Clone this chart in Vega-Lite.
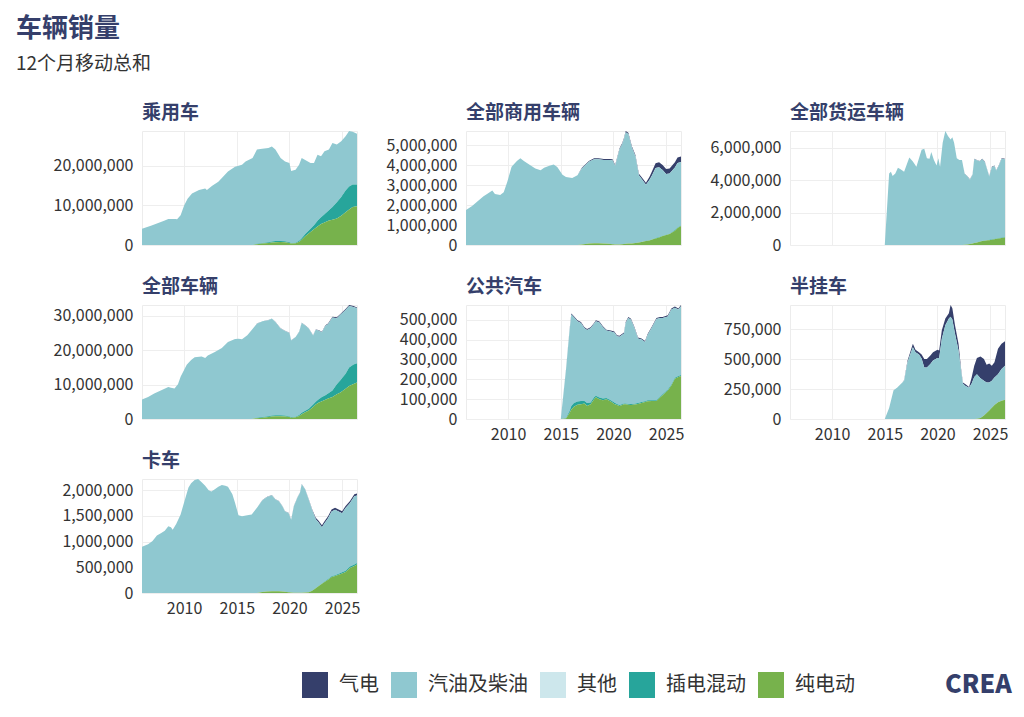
{
  "$schema": "https://vega.github.io/schema/vega-lite/v6.json",
  "padding": {"left": 16, "top": 15, "right": 10, "bottom": 5},
  "title": {
    "text": "车辆销量",
    "subtitle": "12个月移动总和",
    "anchor": "start",
    "frame": "group",
    "dx": -126,
    "fontSize": 26,
    "fontWeight": "bold",
    "color": "#353f6b",
    "subtitleFontSize": 19,
    "subtitleColor": "#333333",
    "subtitlePadding": 13,
    "offset": 30
  },
  "data": {
    "values": [
      {"p":"乘用车","d":"2006-01","g":0,"i":4100000,"h":0,"e":0},
      {"p":"乘用车","d":"2006-12","g":0,"i":4900000,"h":0,"e":0},
      {"p":"乘用车","d":"2008-03","g":0,"i":6200000,"h":0,"e":0},
      {"p":"乘用车","d":"2008-07","g":0,"i":6600000,"h":0,"e":0},
      {"p":"乘用车","d":"2009-03","g":0,"i":6600000,"h":0,"e":0},
      {"p":"乘用车","d":"2009-05","g":0,"i":6500000,"h":0,"e":0},
      {"p":"乘用车","d":"2009-09","g":0,"i":7500000,"h":0,"e":0},
      {"p":"乘用车","d":"2010-01","g":0,"i":10000000,"h":0,"e":0},
      {"p":"乘用车","d":"2010-05","g":0,"i":11700000,"h":0,"e":0},
      {"p":"乘用车","d":"2010-10","g":0,"i":13000000,"h":0,"e":0},
      {"p":"乘用车","d":"2011-06","g":0,"i":13900000,"h":0,"e":0},
      {"p":"乘用车","d":"2012-01","g":0,"i":14300000,"h":0,"e":0},
      {"p":"乘用车","d":"2012-03","g":0,"i":13900000,"h":0,"e":0},
      {"p":"乘用车","d":"2012-09","g":0,"i":15000000,"h":0,"e":0},
      {"p":"乘用车","d":"2013-04","g":0,"i":16000000,"h":0,"e":0},
      {"p":"乘用车","d":"2014-03","g":0,"i":18600000,"h":0,"e":0},
      {"p":"乘用车","d":"2014-11","g":0,"i":19800000,"h":0,"e":0},
      {"p":"乘用车","d":"2015-07","g":0,"i":20300000,"h":0,"e":0},
      {"p":"乘用车","d":"2015-11","g":0,"i":21100000,"h":0,"e":0},
      {"p":"乘用车","d":"2016-07","g":0,"i":22000000,"h":0,"e":0},
      {"p":"乘用车","d":"2016-12","g":0,"i":23800000,"h":100000,"e":200000},
      {"p":"乘用车","d":"2017-06","g":0,"i":23800000,"h":150000,"e":350000},
      {"p":"乘用车","d":"2018-01","g":0,"i":23800000,"h":200000,"e":500000},
      {"p":"乘用车","d":"2018-05","g":0,"i":24000000,"h":250000,"e":650000},
      {"p":"乘用车","d":"2018-09","g":0,"i":23100000,"h":300000,"e":700000},
      {"p":"乘用车","d":"2019-03","g":0,"i":21000000,"h":250000,"e":750000},
      {"p":"乘用车","d":"2019-08","g":0,"i":20150000,"h":250000,"e":700000},
      {"p":"乘用车","d":"2020-01","g":0,"i":20000000,"h":200000,"e":500000},
      {"p":"乘用车","d":"2020-03","g":0,"i":18200000,"h":150000,"e":350000},
      {"p":"乘用车","d":"2020-08","g":0,"i":18400000,"h":150000,"e":450000},
      {"p":"乘用车","d":"2020-12","g":0,"i":19200000,"h":250000,"e":850000},
      {"p":"乘用车","d":"2021-03","g":0,"i":20300000,"h":400000,"e":1300000},
      {"p":"乘用车","d":"2021-07","g":0,"i":18700000,"h":600000,"e":2200000},
      {"p":"乘用车","d":"2022-01","g":0,"i":16600000,"h":800000,"e":3300000},
      {"p":"乘用车","d":"2022-05","g":0,"i":15700000,"h":1000000,"e":4000000},
      {"p":"乘用车","d":"2022-09","g":0,"i":16700000,"h":1400000,"e":4700000},
      {"p":"乘用车","d":"2023-01","g":0,"i":15400000,"h":1700000,"e":5300000},
      {"p":"乘用车","d":"2023-05","g":0,"i":15900000,"h":2100000,"e":5700000},
      {"p":"乘用车","d":"2023-10","g":0,"i":15300000,"h":2600000,"e":6200000},
      {"p":"乘用车","d":"2024-02","g":0,"i":16200000,"h":3200000,"e":6400000},
      {"p":"乘用车","d":"2024-07","g":0,"i":14600000,"h":4100000,"e":6700000},
      {"p":"乘用车","d":"2024-12","g":0,"i":14100000,"h":4700000,"e":7400000},
      {"p":"乘用车","d":"2025-05","g":0,"i":13700000,"h":5500000,"e":8300000},
      {"p":"乘用车","d":"2025-09","g":0,"i":14000000,"h":5800000,"e":9000000},
      {"p":"乘用车","d":"2026-01","g":0,"i":13300000,"h":5700000,"e":9600000},
      {"p":"乘用车","d":"2026-06","g":0,"i":12800000,"h":5500000,"e":9800000},

      {"p":"全部商用车辆","d":"2006-01","g":0,"i":1760000,"h":0,"e":0},
      {"p":"全部商用车辆","d":"2006-08","g":0,"i":1960000,"h":0,"e":0},
      {"p":"全部商用车辆","d":"2007-03","g":0,"i":2220000,"h":0,"e":0},
      {"p":"全部商用车辆","d":"2007-09","g":0,"i":2440000,"h":0,"e":0},
      {"p":"全部商用车辆","d":"2008-01","g":0,"i":2560000,"h":0,"e":0},
      {"p":"全部商用车辆","d":"2008-07","g":0,"i":2730000,"h":0,"e":0},
      {"p":"全部商用车辆","d":"2008-10","g":0,"i":2560000,"h":0,"e":0},
      {"p":"全部商用车辆","d":"2009-04","g":0,"i":2510000,"h":0,"e":0},
      {"p":"全部商用车辆","d":"2009-08","g":0,"i":2650000,"h":0,"e":0},
      {"p":"全部商用车辆","d":"2009-12","g":0,"i":3160000,"h":0,"e":0},
      {"p":"全部商用车辆","d":"2010-05","g":0,"i":3920000,"h":0,"e":0},
      {"p":"全部商用车辆","d":"2010-11","g":0,"i":4220000,"h":0,"e":0},
      {"p":"全部商用车辆","d":"2011-03","g":0,"i":4350000,"h":0,"e":0},
      {"p":"全部商用车辆","d":"2011-07","g":0,"i":4220000,"h":0,"e":0},
      {"p":"全部商用车辆","d":"2012-01","g":0,"i":4040000,"h":0,"e":0},
      {"p":"全部商用车辆","d":"2012-08","g":0,"i":3840000,"h":0,"e":0},
      {"p":"全部商用车辆","d":"2013-02","g":0,"i":3750000,"h":0,"e":0},
      {"p":"全部商用车辆","d":"2013-06","g":0,"i":3870000,"h":0,"e":0},
      {"p":"全部商用车辆","d":"2013-12","g":0,"i":3980000,"h":0,"e":0},
      {"p":"全部商用车辆","d":"2014-05","g":0,"i":4040000,"h":0,"e":0},
      {"p":"全部商用车辆","d":"2014-09","g":0,"i":3910000,"h":0,"e":0},
      {"p":"全部商用车辆","d":"2015-03","g":0,"i":3530000,"h":0,"e":0},
      {"p":"全部商用车辆","d":"2015-07","g":0,"i":3410000,"h":0,"e":0},
      {"p":"全部商用车辆","d":"2016-02","g":0,"i":3360000,"h":0,"e":0},
      {"p":"全部商用车辆","d":"2016-08","g":0,"i":3500000,"h":0,"e":0},
      {"p":"全部商用车辆","d":"2017-01","g":30000,"i":3810000,"h":0,"e":30000},
      {"p":"全部商用车辆","d":"2017-09","g":40000,"i":4100000,"h":0,"e":80000},
      {"p":"全部商用车辆","d":"2018-03","g":50000,"i":4210000,"h":0,"e":90000},
      {"p":"全部商用车辆","d":"2018-08","g":50000,"i":4210000,"h":0,"e":90000},
      {"p":"全部商用车辆","d":"2019-02","g":50000,"i":4190000,"h":0,"e":80000},
      {"p":"全部商用车辆","d":"2019-08","g":50000,"i":4210000,"h":0,"e":60000},
      {"p":"全部商用车辆","d":"2019-12","g":50000,"i":4210000,"h":0,"e":40000},
      {"p":"全部商用车辆","d":"2020-03","g":50000,"i":3930000,"h":0,"e":30000},
      {"p":"全部商用车辆","d":"2020-08","g":50000,"i":4780000,"h":0,"e":30000},
      {"p":"全部商用车辆","d":"2020-11","g":50000,"i":5030000,"h":0,"e":40000},
      {"p":"全部商用车辆","d":"2021-01","g":50000,"i":5270000,"h":0,"e":50000},
      {"p":"全部商用车辆","d":"2021-03","g":60000,"i":5600000,"h":0,"e":60000},
      {"p":"全部商用车辆","d":"2021-06","g":60000,"i":5500000,"h":0,"e":70000},
      {"p":"全部商用车辆","d":"2021-10","g":60000,"i":4810000,"h":0,"e":80000},
      {"p":"全部商用车辆","d":"2022-02","g":70000,"i":4350000,"h":0,"e":100000},
      {"p":"全部商用车辆","d":"2022-06","g":80000,"i":3370000,"h":0,"e":130000},
      {"p":"全部商用车辆","d":"2022-09","g":90000,"i":3170000,"h":0,"e":150000},
      {"p":"全部商用车辆","d":"2023-02","g":100000,"i":2810000,"h":10000,"e":200000},
      {"p":"全部商用车辆","d":"2023-06","g":150000,"i":3020000,"h":10000,"e":230000},
      {"p":"全部商用车辆","d":"2023-09","g":200000,"i":3220000,"h":10000,"e":270000},
      {"p":"全部商用车辆","d":"2024-01","g":240000,"i":3510000,"h":20000,"e":330000},
      {"p":"全部商用车辆","d":"2024-05","g":250000,"i":3500000,"h":20000,"e":380000},
      {"p":"全部商用车辆","d":"2024-09","g":250000,"i":3290000,"h":20000,"e":450000},
      {"p":"全部商用车辆","d":"2025-01","g":250000,"i":3040000,"h":20000,"e":500000},
      {"p":"全部商用车辆","d":"2025-05","g":250000,"i":3020000,"h":20000,"e":550000},
      {"p":"全部商用车辆","d":"2025-11","g":260000,"i":3140000,"h":30000,"e":720000},
      {"p":"全部商用车辆","d":"2026-02","g":280000,"i":3230000,"h":30000,"e":850000},
      {"p":"全部商用车辆","d":"2026-06","g":280000,"i":3180000,"h":30000,"e":950000},

      {"p":"全部货运车辆","d":"2015-01","g":0,"i":0,"h":0,"e":0},
      {"p":"全部货运车辆","d":"2015-06","g":0,"i":4420000,"h":0,"e":0},
      {"p":"全部货运车辆","d":"2015-08","g":0,"i":4530000,"h":0,"e":0},
      {"p":"全部货运车辆","d":"2015-10","g":0,"i":4270000,"h":0,"e":0},
      {"p":"全部货运车辆","d":"2016-01","g":0,"i":4420000,"h":0,"e":0},
      {"p":"全部货运车辆","d":"2016-04","g":0,"i":4780000,"h":0,"e":0},
      {"p":"全部货运车辆","d":"2016-07","g":0,"i":4690000,"h":0,"e":0},
      {"p":"全部货运车辆","d":"2016-11","g":0,"i":4530000,"h":0,"e":0},
      {"p":"全部货运车辆","d":"2017-03","g":0,"i":5120000,"h":0,"e":0},
      {"p":"全部货运车辆","d":"2017-05","g":0,"i":5410000,"h":0,"e":0},
      {"p":"全部货运车辆","d":"2017-09","g":0,"i":5160000,"h":0,"e":0},
      {"p":"全部货运车辆","d":"2018-01","g":0,"i":4840000,"h":0,"e":0},
      {"p":"全部货运车辆","d":"2018-04","g":0,"i":5370000,"h":0,"e":0},
      {"p":"全部货运车辆","d":"2018-07","g":0,"i":5890000,"h":0,"e":0},
      {"p":"全部货运车辆","d":"2018-10","g":0,"i":5960000,"h":0,"e":0},
      {"p":"全部货运车辆","d":"2019-01","g":0,"i":5370000,"h":0,"e":0},
      {"p":"全部货运车辆","d":"2019-04","g":0,"i":5330000,"h":0,"e":0},
      {"p":"全部货运车辆","d":"2019-06","g":0,"i":5750000,"h":0,"e":0},
      {"p":"全部货运车辆","d":"2019-09","g":0,"i":5260000,"h":0,"e":0},
      {"p":"全部货运车辆","d":"2019-12","g":0,"i":4910000,"h":0,"e":0},
      {"p":"全部货运车辆","d":"2020-02","g":0,"i":5370000,"h":0,"e":0},
      {"p":"全部货运车辆","d":"2020-04","g":0,"i":4840000,"h":0,"e":0},
      {"p":"全部货运车辆","d":"2020-07","g":0,"i":6320000,"h":0,"e":0},
      {"p":"全部货运车辆","d":"2020-10","g":0,"i":7050000,"h":0,"e":0},
      {"p":"全部货运车辆","d":"2021-01","g":0,"i":6740000,"h":0,"e":0},
      {"p":"全部货运车辆","d":"2021-04","g":0,"i":6530000,"h":0,"e":0},
      {"p":"全部货运车辆","d":"2021-06","g":0,"i":6670000,"h":0,"e":0},
      {"p":"全部货运车辆","d":"2021-08","g":0,"i":6320000,"h":0,"e":0},
      {"p":"全部货运车辆","d":"2021-11","g":0,"i":5370000,"h":0,"e":0},
      {"p":"全部货运车辆","d":"2022-02","g":0,"i":5260000,"h":0,"e":0},
      {"p":"全部货运车辆","d":"2022-05","g":0,"i":5260000,"h":0,"e":0},
      {"p":"全部货运车辆","d":"2022-08","g":20000,"i":4390000,"h":0,"e":10000},
      {"p":"全部货运车辆","d":"2022-11","g":20000,"i":4220000,"h":0,"e":30000},
      {"p":"全部货运车辆","d":"2023-02","g":20000,"i":3980000,"h":0,"e":60000},
      {"p":"全部货运车辆","d":"2023-05","g":20000,"i":4250000,"h":0,"e":90000},
      {"p":"全部货运车辆","d":"2023-07","g":20000,"i":5190000,"h":0,"e":120000},
      {"p":"全部货运车辆","d":"2023-10","g":20000,"i":5080000,"h":0,"e":160000},
      {"p":"全部货运车辆","d":"2024-01","g":20000,"i":4970000,"h":10000,"e":200000},
      {"p":"全部货运车辆","d":"2024-04","g":30000,"i":5050000,"h":10000,"e":240000},
      {"p":"全部货运车辆","d":"2024-07","g":30000,"i":4850000,"h":10000,"e":270000},
      {"p":"全部货运车辆","d":"2024-10","g":30000,"i":4300000,"h":10000,"e":290000},
      {"p":"全部货运车辆","d":"2024-12","g":30000,"i":3920000,"h":20000,"e":300000},
      {"p":"全部货运车辆","d":"2025-03","g":30000,"i":4460000,"h":20000,"e":330000},
      {"p":"全部货运车辆","d":"2025-06","g":30000,"i":4500000,"h":20000,"e":360000},
      {"p":"全部货运车辆","d":"2025-08","g":30000,"i":4200000,"h":20000,"e":380000},
      {"p":"全部货运车辆","d":"2025-11","g":30000,"i":4490000,"h":30000,"e":400000},
      {"p":"全部货运车辆","d":"2026-02","g":30000,"i":4870000,"h":30000,"e":440000},
      {"p":"全部货运车辆","d":"2026-06","g":30000,"i":4800000,"h":40000,"e":460000},

      {"p":"全部车辆","d":"2006-01","g":0,"i":5700000,"h":0,"e":0},
      {"p":"全部车辆","d":"2006-08","g":0,"i":6400000,"h":0,"e":0},
      {"p":"全部车辆","d":"2007-03","g":0,"i":7400000,"h":0,"e":0},
      {"p":"全部车辆","d":"2007-11","g":0,"i":8400000,"h":0,"e":0},
      {"p":"全部车辆","d":"2008-07","g":0,"i":9300000,"h":0,"e":0},
      {"p":"全部车辆","d":"2008-10","g":0,"i":9100000,"h":0,"e":0},
      {"p":"全部车辆","d":"2009-02","g":0,"i":8900000,"h":0,"e":0},
      {"p":"全部车辆","d":"2009-06","g":0,"i":10100000,"h":0,"e":0},
      {"p":"全部车辆","d":"2009-09","g":0,"i":12300000,"h":0,"e":0},
      {"p":"全部车辆","d":"2010-04","g":0,"i":15800000,"h":0,"e":0},
      {"p":"全部车辆","d":"2010-09","g":0,"i":17200000,"h":0,"e":0},
      {"p":"全部车辆","d":"2011-01","g":0,"i":18000000,"h":0,"e":0},
      {"p":"全部车辆","d":"2011-09","g":0,"i":18200000,"h":0,"e":0},
      {"p":"全部车辆","d":"2012-01","g":0,"i":17800000,"h":0,"e":0},
      {"p":"全部车辆","d":"2012-04","g":0,"i":18500000,"h":0,"e":0},
      {"p":"全部车辆","d":"2012-12","g":0,"i":19500000,"h":0,"e":0},
      {"p":"全部车辆","d":"2013-08","g":0,"i":20700000,"h":0,"e":0},
      {"p":"全部车辆","d":"2014-03","g":0,"i":22400000,"h":0,"e":0},
      {"p":"全部车辆","d":"2014-11","g":0,"i":23300000,"h":0,"e":0},
      {"p":"全部车辆","d":"2015-03","g":0,"i":23400000,"h":0,"e":0},
      {"p":"全部车辆","d":"2015-07","g":0,"i":23200000,"h":0,"e":0},
      {"p":"全部车辆","d":"2016-01","g":0,"i":24400000,"h":0,"e":0},
      {"p":"全部车辆","d":"2016-06","g":0,"i":25900000,"h":0,"e":0},
      {"p":"全部车辆","d":"2016-12","g":30000,"i":27420000,"h":100000,"e":250000},
      {"p":"全部车辆","d":"2017-06","g":40000,"i":27910000,"h":150000,"e":400000},
      {"p":"全部车辆","d":"2018-01","g":50000,"i":27950000,"h":200000,"e":600000},
      {"p":"全部车辆","d":"2018-05","g":50000,"i":28250000,"h":250000,"e":750000},
      {"p":"全部车辆","d":"2018-09","g":50000,"i":27150000,"h":300000,"e":800000},
      {"p":"全部车辆","d":"2019-03","g":50000,"i":25250000,"h":300000,"e":800000},
      {"p":"全部车辆","d":"2019-08","g":50000,"i":24650000,"h":250000,"e":750000},
      {"p":"全部车辆","d":"2020-01","g":50000,"i":24300000,"h":200000,"e":550000},
      {"p":"全部车辆","d":"2020-03","g":50000,"i":22300000,"h":150000,"e":400000},
      {"p":"全部车辆","d":"2020-08","g":50000,"i":23200000,"h":150000,"e":500000},
      {"p":"全部车辆","d":"2020-12","g":50000,"i":24150000,"h":300000,"e":900000},
      {"p":"全部车辆","d":"2021-03","g":60000,"i":26140000,"h":400000,"e":1400000},
      {"p":"全部车辆","d":"2021-07","g":60000,"i":24840000,"h":400000,"e":2000000},
      {"p":"全部车辆","d":"2021-11","g":70000,"i":23330000,"h":500000,"e":2500000},
      {"p":"全部车辆","d":"2022-04","g":80000,"i":20120000,"h":700000,"e":3500000},
      {"p":"全部车辆","d":"2022-07","g":80000,"i":21020000,"h":800000,"e":4200000},
      {"p":"全部车辆","d":"2022-10","g":90000,"i":20110000,"h":1000000,"e":4700000},
      {"p":"全部车辆","d":"2023-02","g":100000,"i":18900000,"h":1200000,"e":5200000},
      {"p":"全部车辆","d":"2023-06","g":150000,"i":20250000,"h":1300000,"e":5600000},
      {"p":"全部车辆","d":"2023-09","g":200000,"i":20200000,"h":1400000,"e":6000000},
      {"p":"全部车辆","d":"2024-02","g":240000,"i":21260000,"h":1900000,"e":6400000},
      {"p":"全部车辆","d":"2024-07","g":250000,"i":19250000,"h":2900000,"e":7200000},
      {"p":"全部车辆","d":"2024-11","g":250000,"i":19050000,"h":3600000,"e":7700000},
      {"p":"全部车辆","d":"2025-05","g":250000,"i":18550000,"h":4400000,"e":8800000},
      {"p":"全部车辆","d":"2025-09","g":260000,"i":17940000,"h":5400000,"e":9600000},
      {"p":"全部车辆","d":"2026-02","g":280000,"i":16720000,"h":5700000,"e":10200000},
      {"p":"全部车辆","d":"2026-06","g":280000,"i":16020000,"h":5600000,"e":10600000},

      {"p":"公共汽车","d":"2015-01","g":0,"i":0,"h":0,"e":0},
      {"p":"公共汽车","d":"2015-07","g":2000,"i":243000,"h":2000,"e":3000},
      {"p":"公共汽车","d":"2015-11","g":4000,"i":406000,"h":10000,"e":30000},
      {"p":"公共汽车","d":"2016-01","g":5000,"i":461000,"h":17000,"e":48000},
      {"p":"公共汽车","d":"2016-04","g":5000,"i":432000,"h":18000,"e":62000},
      {"p":"公共汽车","d":"2016-08","g":5000,"i":404000,"h":16000,"e":72000},
      {"p":"公共汽车","d":"2016-12","g":5000,"i":392000,"h":17000,"e":74000},
      {"p":"公共汽车","d":"2017-04","g":5000,"i":366000,"h":13000,"e":78000},
      {"p":"公共汽车","d":"2017-07","g":5000,"i":368000,"h":14000,"e":66000},
      {"p":"公共汽车","d":"2017-11","g":5000,"i":374000,"h":9000,"e":74000},
      {"p":"公共汽车","d":"2018-03","g":5000,"i":369000,"h":10000,"e":100000},
      {"p":"公共汽车","d":"2018-05","g":5000,"i":375000,"h":8000,"e":109000},
      {"p":"公共汽车","d":"2018-09","g":5000,"i":378000,"h":8000,"e":100000},
      {"p":"公共汽车","d":"2019-01","g":5000,"i":359000,"h":8000,"e":95000},
      {"p":"公共汽车","d":"2019-05","g":5000,"i":339000,"h":6000,"e":100000},
      {"p":"公共汽车","d":"2019-10","g":5000,"i":345000,"h":7000,"e":88000},
      {"p":"公共汽车","d":"2020-02","g":5000,"i":353000,"h":7000,"e":76000},
      {"p":"公共汽车","d":"2020-05","g":5000,"i":341000,"h":6000,"e":70000},
      {"p":"公共汽车","d":"2020-08","g":5000,"i":344000,"h":5000,"e":65000},
      {"p":"公共汽车","d":"2021-01","g":5000,"i":353000,"h":4000,"e":74000},
      {"p":"公共汽车","d":"2021-03","g":5000,"i":405000,"h":4000,"e":74000},
      {"p":"公共汽车","d":"2021-06","g":5000,"i":433000,"h":4000,"e":72000},
      {"p":"公共汽车","d":"2021-09","g":5000,"i":425000,"h":4000,"e":71000},
      {"p":"公共汽车","d":"2022-01","g":5000,"i":380000,"h":4000,"e":73000},
      {"p":"公共汽车","d":"2022-05","g":5000,"i":325000,"h":4000,"e":76000},
      {"p":"公共汽车","d":"2022-09","g":5000,"i":315000,"h":4000,"e":81000},
      {"p":"公共汽车","d":"2023-01","g":5000,"i":299000,"h":4000,"e":85000},
      {"p":"公共汽车","d":"2023-04","g":5000,"i":329000,"h":4000,"e":90000},
      {"p":"公共汽车","d":"2023-09","g":5000,"i":367000,"h":4000,"e":91000},
      {"p":"公共汽车","d":"2024-02","g":5000,"i":409000,"h":4000,"e":91000},
      {"p":"公共汽车","d":"2024-06","g":6000,"i":396000,"h":4000,"e":108000},
      {"p":"公共汽车","d":"2024-09","g":6000,"i":383000,"h":5000,"e":120000},
      {"p":"公共汽车","d":"2025-03","g":6000,"i":368000,"h":5000,"e":143000},
      {"p":"公共汽车","d":"2025-07","g":6000,"i":377000,"h":5000,"e":169000},
      {"p":"公共汽车","d":"2025-11","g":6000,"i":352000,"h":5000,"e":203000},
      {"p":"公共汽车","d":"2026-03","g":6000,"i":335000,"h":5000,"e":211000},
      {"p":"公共汽车","d":"2026-06","g":6000,"i":347000,"h":5000,"e":216000},

      {"p":"半挂车","d":"2015-01","g":0,"i":0,"h":0,"e":0},
      {"p":"半挂车","d":"2015-06","g":0,"i":93000,"h":0,"e":0},
      {"p":"半挂车","d":"2015-11","g":0,"i":240000,"h":0,"e":0},
      {"p":"半挂车","d":"2016-03","g":0,"i":262000,"h":0,"e":0},
      {"p":"半挂车","d":"2016-09","g":0,"i":305000,"h":0,"e":0},
      {"p":"半挂车","d":"2016-11","g":4000,"i":320000,"h":0,"e":0},
      {"p":"半挂车","d":"2017-03","g":14000,"i":474000,"h":0,"e":0},
      {"p":"半挂车","d":"2017-06","g":19000,"i":539000,"h":0,"e":0},
      {"p":"半挂车","d":"2017-09","g":29000,"i":600000,"h":0,"e":0},
      {"p":"半挂车","d":"2017-12","g":20000,"i":558000,"h":0,"e":0},
      {"p":"半挂车","d":"2018-04","g":19000,"i":539000,"h":0,"e":0},
      {"p":"半挂车","d":"2018-07","g":34000,"i":505000,"h":0,"e":0},
      {"p":"半挂车","d":"2018-10","g":71000,"i":431000,"h":0,"e":0},
      {"p":"半挂车","d":"2019-01","g":71000,"i":431000,"h":0,"e":0},
      {"p":"半挂车","d":"2019-05","g":70000,"i":460000,"h":0,"e":0},
      {"p":"半挂车","d":"2019-08","g":70000,"i":488000,"h":0,"e":0},
      {"p":"半挂车","d":"2020-01","g":68000,"i":510000,"h":0,"e":0},
      {"p":"半挂车","d":"2020-03","g":62000,"i":510000,"h":0,"e":0},
      {"p":"半挂车","d":"2020-06","g":71000,"i":671000,"h":0,"e":0},
      {"p":"半挂车","d":"2020-10","g":56000,"i":784000,"h":0,"e":0},
      {"p":"半挂车","d":"2021-02","g":43000,"i":840000,"h":0,"e":0},
      {"p":"半挂车","d":"2021-04","g":98000,"i":855000,"h":0,"e":0},
      {"p":"半挂车","d":"2021-06","g":93000,"i":832000,"h":0,"e":0},
      {"p":"半挂车","d":"2021-09","g":71000,"i":713000,"h":0,"e":0},
      {"p":"半挂车","d":"2022-01","g":57000,"i":572000,"h":0,"e":0},
      {"p":"半挂车","d":"2022-04","g":14000,"i":403000,"h":0,"e":0},
      {"p":"半挂车","d":"2022-06","g":9000,"i":296000,"h":0,"e":0},
      {"p":"半挂车","d":"2022-09","g":14000,"i":276000,"h":0,"e":0},
      {"p":"半挂车","d":"2023-01","g":6000,"i":262000,"h":0,"e":0},
      {"p":"半挂车","d":"2023-04","g":51000,"i":296000,"h":0,"e":0},
      {"p":"半挂车","d":"2023-07","g":94000,"i":352000,"h":0,"e":0},
      {"p":"半挂车","d":"2023-10","g":135000,"i":373000,"h":0,"e":2000},
      {"p":"半挂车","d":"2024-02","g":181000,"i":333000,"h":0,"e":8000},
      {"p":"半挂车","d":"2024-06","g":183000,"i":289000,"h":0,"e":30000},
      {"p":"半挂车","d":"2024-09","g":149000,"i":255000,"h":0,"e":50000},
      {"p":"半挂车","d":"2024-12","g":160000,"i":233000,"h":0,"e":72000},
      {"p":"半挂车","d":"2025-03","g":127000,"i":224000,"h":0,"e":95000},
      {"p":"半挂车","d":"2025-06","g":127000,"i":229000,"h":0,"e":118000},
      {"p":"半挂车","d":"2025-10","g":212000,"i":235000,"h":0,"e":140000},
      {"p":"半挂车","d":"2026-02","g":212000,"i":265000,"h":0,"e":152000},
      {"p":"半挂车","d":"2026-06","g":205000,"i":285000,"h":0,"e":161000},

      {"p":"卡车","d":"2006-01","g":0,"i":901000,"h":0,"e":0},
      {"p":"卡车","d":"2006-08","g":0,"i":948000,"h":0,"e":0},
      {"p":"卡车","d":"2007-01","g":0,"i":1013000,"h":0,"e":0},
      {"p":"卡车","d":"2007-06","g":0,"i":1119000,"h":0,"e":0},
      {"p":"卡车","d":"2007-11","g":0,"i":1165000,"h":0,"e":0},
      {"p":"卡车","d":"2008-03","g":0,"i":1211000,"h":0,"e":0},
      {"p":"卡车","d":"2008-07","g":0,"i":1296000,"h":0,"e":0},
      {"p":"卡车","d":"2008-10","g":0,"i":1277000,"h":0,"e":0},
      {"p":"卡车","d":"2008-12","g":0,"i":1230000,"h":0,"e":0},
      {"p":"卡车","d":"2009-04","g":0,"i":1342000,"h":0,"e":0},
      {"p":"卡车","d":"2009-09","g":0,"i":1527000,"h":0,"e":0},
      {"p":"卡车","d":"2010-02","g":0,"i":1823000,"h":0,"e":0},
      {"p":"卡车","d":"2010-06","g":0,"i":2053000,"h":0,"e":0},
      {"p":"卡车","d":"2010-09","g":0,"i":2132000,"h":0,"e":0},
      {"p":"卡车","d":"2011-01","g":0,"i":2198000,"h":0,"e":0},
      {"p":"卡车","d":"2011-05","g":0,"i":2217000,"h":0,"e":0},
      {"p":"卡车","d":"2011-09","g":0,"i":2152000,"h":0,"e":0},
      {"p":"卡车","d":"2012-01","g":0,"i":2086000,"h":0,"e":0},
      {"p":"卡车","d":"2012-05","g":0,"i":2000000,"h":0,"e":0},
      {"p":"卡车","d":"2012-08","g":0,"i":1974000,"h":0,"e":0},
      {"p":"卡车","d":"2012-12","g":0,"i":2020000,"h":0,"e":0},
      {"p":"卡车","d":"2013-04","g":0,"i":2066000,"h":0,"e":0},
      {"p":"卡车","d":"2013-08","g":0,"i":2099000,"h":0,"e":0},
      {"p":"卡车","d":"2013-12","g":0,"i":2086000,"h":0,"e":0},
      {"p":"卡车","d":"2014-03","g":0,"i":2066000,"h":0,"e":0},
      {"p":"卡车","d":"2014-08","g":0,"i":1921000,"h":0,"e":0},
      {"p":"卡车","d":"2014-11","g":0,"i":1757000,"h":0,"e":0},
      {"p":"卡车","d":"2015-03","g":0,"i":1513000,"h":0,"e":0},
      {"p":"卡车","d":"2015-07","g":0,"i":1494000,"h":0,"e":0},
      {"p":"卡车","d":"2016-01","g":0,"i":1513000,"h":0,"e":0},
      {"p":"卡车","d":"2016-06","g":0,"i":1527000,"h":0,"e":0},
      {"p":"卡车","d":"2016-12","g":0,"i":1658000,"h":0,"e":0},
      {"p":"卡车","d":"2017-06","g":5000,"i":1778000,"h":0,"e":20000},
      {"p":"卡车","d":"2017-11","g":5000,"i":1834000,"h":0,"e":30000},
      {"p":"卡车","d":"2018-05","g":5000,"i":1870000,"h":0,"e":33000},
      {"p":"卡车","d":"2018-09","g":5000,"i":1785000,"h":0,"e":33000},
      {"p":"卡车","d":"2019-01","g":5000,"i":1752000,"h":0,"e":33000},
      {"p":"卡车","d":"2019-05","g":5000,"i":1656000,"h":0,"e":30000},
      {"p":"卡车","d":"2019-08","g":5000,"i":1562000,"h":0,"e":25000},
      {"p":"卡车","d":"2019-12","g":5000,"i":1539000,"h":0,"e":15000},
      {"p":"卡车","d":"2020-03","g":5000,"i":1415000,"h":0,"e":8000},
      {"p":"卡车","d":"2020-06","g":5000,"i":1681000,"h":0,"e":5000},
      {"p":"卡车","d":"2020-10","g":5000,"i":1846000,"h":0,"e":5000},
      {"p":"卡车","d":"2021-01","g":5000,"i":1944000,"h":0,"e":5000},
      {"p":"卡车","d":"2021-03","g":5000,"i":2109000,"h":0,"e":5000},
      {"p":"卡车","d":"2021-07","g":6000,"i":2006000,"h":0,"e":8000},
      {"p":"卡车","d":"2021-11","g":8000,"i":1800000,"h":0,"e":15000},
      {"p":"卡车","d":"2022-03","g":15000,"i":1561000,"h":3000,"e":46000},
      {"p":"卡车","d":"2022-07","g":25000,"i":1341000,"h":5000,"e":90000},
      {"p":"卡车","d":"2022-10","g":30000,"i":1242000,"h":6000,"e":130000},
      {"p":"卡车","d":"2023-02","g":35000,"i":1095000,"h":8000,"e":178000},
      {"p":"卡车","d":"2023-05","g":40000,"i":1130000,"h":10000,"e":215000},
      {"p":"卡车","d":"2023-09","g":40000,"i":1182000,"h":12000,"e":260000},
      {"p":"卡车","d":"2024-01","g":40000,"i":1261000,"h":15000,"e":309000},
      {"p":"卡车","d":"2024-05","g":40000,"i":1271000,"h":17000,"e":330000},
      {"p":"卡车","d":"2024-09","g":40000,"i":1210000,"h":20000,"e":355000},
      {"p":"卡车","d":"2025-01","g":40000,"i":1150000,"h":22000,"e":380000},
      {"p":"卡车","d":"2025-05","g":40000,"i":1218000,"h":25000,"e":408000},
      {"p":"卡车","d":"2025-10","g":40000,"i":1235000,"h":28000,"e":487000},
      {"p":"卡车","d":"2026-03","g":40000,"i":1325000,"h":30000,"e":526000},
      {"p":"卡车","d":"2026-06","g":40000,"i":1311000,"h":30000,"e":553000}
    ]
  },
  "transform": [
    {"fold": ["g", "i", "h", "e"], "as": ["k", "v"]},
    {
      "lookup": "k",
      "from": {
        "data": {
          "values": [
            {"k": "g", "s": "气电", "n": 5},
            {"k": "i", "s": "汽油及柴油", "n": 4},
            {"k": "h", "s": "插电混动", "n": 2},
            {"k": "e", "s": "纯电动", "n": 1}
          ]
        },
        "key": "k",
        "fields": ["s", "n"]
      }
    }
  ],
  "columns": 3,
  "spacing": {"row": 60, "column": 109},
  "bounds": "flush",
  "resolve": {"scale": {"x": "shared", "y": "independent", "color": "shared"}},
  "concat": [
    {
      "title": "乘用车",
      "width": 215, "height": 114,
      "transform": [{"filter": "datum.p === '乘用车'"}],
      "mark": {"type": "area", "opacity": 1},
      "encoding": {
        "x": {"field": "d", "type": "temporal", "title": null, "axis": {"values": [{"year": 2010}, {"year": 2015}, {"year": 2020}, {"year": 2025}], "format": "%Y", "labels": false}},
        "y": {"field": "v", "type": "quantitative", "title": null, "scale": {"nice": false}, "axis": {"values": [0, 10000000, 20000000], "format": ",.0f"}},
        "color": {"field": "s", "type": "nominal", "title": "CREA", "scale": {"domain": ["气电", "汽油及柴油", "其他", "插电混动", "纯电动"], "range": ["#353f6b", "#8fc8d0", "#cde7ec", "#27a59b", "#77b24c"]}},
        "order": {"field": "n", "type": "quantitative"}
      }
    },
    {
      "title": "全部商用车辆",
      "width": 215, "height": 114,
      "transform": [{"filter": "datum.p === '全部商用车辆'"}],
      "mark": {"type": "area", "opacity": 1},
      "encoding": {
        "x": {"field": "d", "type": "temporal", "title": null, "axis": {"values": [{"year": 2010}, {"year": 2015}, {"year": 2020}, {"year": 2025}], "format": "%Y", "labels": false}},
        "y": {"field": "v", "type": "quantitative", "title": null, "scale": {"nice": false}, "axis": {"values": [0, 1000000, 2000000, 3000000, 4000000, 5000000], "format": ",.0f"}},
        "color": {"field": "s", "type": "nominal", "title": "CREA", "scale": {"domain": ["气电", "汽油及柴油", "其他", "插电混动", "纯电动"], "range": ["#353f6b", "#8fc8d0", "#cde7ec", "#27a59b", "#77b24c"]}},
        "order": {"field": "n", "type": "quantitative"}
      }
    },
    {
      "title": "全部货运车辆",
      "width": 215, "height": 114,
      "transform": [{"filter": "datum.p === '全部货运车辆'"}],
      "mark": {"type": "area", "opacity": 1},
      "encoding": {
        "x": {"field": "d", "type": "temporal", "title": null, "axis": {"values": [{"year": 2010}, {"year": 2015}, {"year": 2020}, {"year": 2025}], "format": "%Y", "labels": false}},
        "y": {"field": "v", "type": "quantitative", "title": null, "scale": {"nice": false}, "axis": {"values": [0, 2000000, 4000000, 6000000], "format": ",.0f"}},
        "color": {"field": "s", "type": "nominal", "title": "CREA", "scale": {"domain": ["气电", "汽油及柴油", "其他", "插电混动", "纯电动"], "range": ["#353f6b", "#8fc8d0", "#cde7ec", "#27a59b", "#77b24c"]}},
        "order": {"field": "n", "type": "quantitative"}
      }
    },
    {
      "title": "全部车辆",
      "width": 215, "height": 114,
      "transform": [{"filter": "datum.p === '全部车辆'"}],
      "mark": {"type": "area", "opacity": 1},
      "encoding": {
        "x": {"field": "d", "type": "temporal", "title": null, "axis": {"values": [{"year": 2010}, {"year": 2015}, {"year": 2020}, {"year": 2025}], "format": "%Y", "labels": false}},
        "y": {"field": "v", "type": "quantitative", "title": null, "scale": {"nice": false}, "axis": {"values": [0, 10000000, 20000000, 30000000], "format": ",.0f"}},
        "color": {"field": "s", "type": "nominal", "title": "CREA", "scale": {"domain": ["气电", "汽油及柴油", "其他", "插电混动", "纯电动"], "range": ["#353f6b", "#8fc8d0", "#cde7ec", "#27a59b", "#77b24c"]}},
        "order": {"field": "n", "type": "quantitative"}
      }
    },
    {
      "title": "公共汽车",
      "width": 215, "height": 114,
      "transform": [{"filter": "datum.p === '公共汽车'"}],
      "mark": {"type": "area", "opacity": 1},
      "encoding": {
        "x": {"field": "d", "type": "temporal", "title": null, "axis": {"values": [{"year": 2010}, {"year": 2015}, {"year": 2020}, {"year": 2025}], "format": "%Y"}},
        "y": {"field": "v", "type": "quantitative", "title": null, "scale": {"nice": false}, "axis": {"values": [0, 100000, 200000, 300000, 400000, 500000], "format": ",.0f"}},
        "color": {"field": "s", "type": "nominal", "title": "CREA", "scale": {"domain": ["气电", "汽油及柴油", "其他", "插电混动", "纯电动"], "range": ["#353f6b", "#8fc8d0", "#cde7ec", "#27a59b", "#77b24c"]}},
        "order": {"field": "n", "type": "quantitative"}
      }
    },
    {
      "title": "半挂车",
      "width": 215, "height": 114,
      "transform": [{"filter": "datum.p === '半挂车'"}],
      "mark": {"type": "area", "opacity": 1},
      "encoding": {
        "x": {"field": "d", "type": "temporal", "title": null, "axis": {"values": [{"year": 2010}, {"year": 2015}, {"year": 2020}, {"year": 2025}], "format": "%Y"}},
        "y": {"field": "v", "type": "quantitative", "title": null, "scale": {"nice": false}, "axis": {"values": [0, 250000, 500000, 750000], "format": ",.0f"}},
        "color": {"field": "s", "type": "nominal", "title": "CREA", "scale": {"domain": ["气电", "汽油及柴油", "其他", "插电混动", "纯电动"], "range": ["#353f6b", "#8fc8d0", "#cde7ec", "#27a59b", "#77b24c"]}},
        "order": {"field": "n", "type": "quantitative"}
      }
    },
    {
      "title": "卡车",
      "width": 215, "height": 114,
      "transform": [{"filter": "datum.p === '卡车'"}],
      "mark": {"type": "area", "opacity": 1},
      "encoding": {
        "x": {"field": "d", "type": "temporal", "title": null, "axis": {"values": [{"year": 2010}, {"year": 2015}, {"year": 2020}, {"year": 2025}], "format": "%Y"}},
        "y": {"field": "v", "type": "quantitative", "title": null, "scale": {"nice": false}, "axis": {"values": [0, 500000, 1000000, 1500000, 2000000], "format": ",.0f"}},
        "color": {"field": "s", "type": "nominal", "title": "CREA", "scale": {"domain": ["气电", "汽油及柴油", "其他", "插电混动", "纯电动"], "range": ["#353f6b", "#8fc8d0", "#cde7ec", "#27a59b", "#77b24c"]}},
        "order": {"field": "n", "type": "quantitative"}
      }
    }
  ],
  "config": {
    "font": "Noto Sans CJK SC",
    "view": {"stroke": "#ececec"},
    "axis": {
      "labelFontSize": 16,
      "labelColor": "#333333",
      "ticks": false,
      "domain": false,
      "gridColor": "#eeeeee",
      "labelPadding": 7,
      "labelOverlap": false,
      "labelFlush": false
    },
    "axisY": {"labelPadding": 9},
    "title": {
      "anchor": "start",
      "frame": "group",
      "fontSize": 19,
      "fontWeight": "bold",
      "color": "#353f6b",
      "offset": 8
    },
    "legend": {
      "orient": "none",
      "legendX": 160,
      "legendY": 541,
      "direction": "horizontal",
      "symbolType": "square",
      "symbolSize": 676,
      "symbolStrokeWidth": 0,
      "symbolOpacity": 1,
      "labelFontSize": 20,
      "labelColor": "#333333",
      "labelOffset": 11,
      "columnPadding": 12,
      "titleOrient": "right",
      "titleFontSize": 25,
      "titleFontWeight": 800,
      "titleColor": "#353f6b",
      "titlePadding": 90,
      "padding": 0
    }
  }
}
